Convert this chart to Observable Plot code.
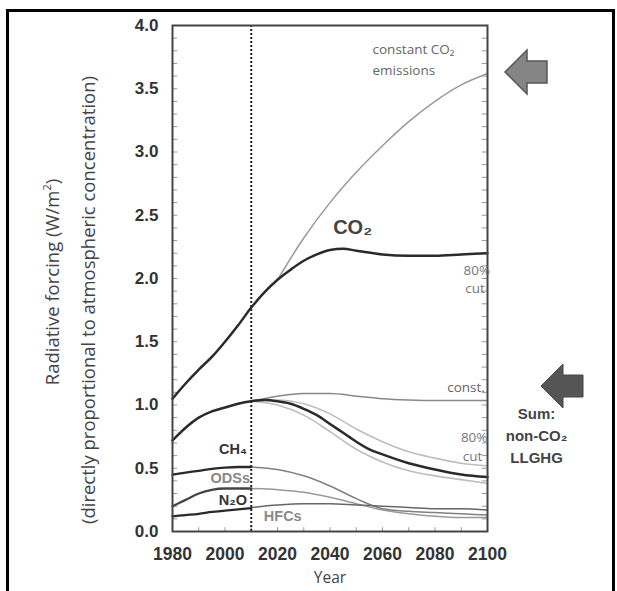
<!DOCTYPE html>
<html>
<head>
<meta charset="utf-8">
<script src="https://cdn.jsdelivr.net/npm/d3@7"></script>
<script src="https://cdn.jsdelivr.net/npm/@observablehq/plot@0.6"></script>
<style>
  html, body { margin: 0; padding: 0; background: #fff; }
  #wrap { position: relative; width: 617px; height: 591px; overflow: hidden; }
  #border { position: absolute; left: 6px; top: 9px; width: 603px; height: 600px; border: 3px solid #000; border-bottom: none; }
  .ytitle { position: absolute; font-family: "Open Sans", sans-serif; font-size: 18.5px; color: #444; white-space: nowrap;
            transform: translate(-50%, -50%) rotate(-90deg); }
  #chart { position: absolute; left: 0; top: 0; }
  #deco { position: absolute; left: 0; top: 0; }
</style>
</head>
<body>
<div id="wrap">
  <div id="border"></div>
  <div id="chart"></div>
  <div class="ytitle" style="left:51px; top:282px;">Radiative forcing (W/m<sup style="font-size:11px">2</sup>)</div>
  <div class="ytitle" style="left:87px; top:300px;">(directly proportional to atmospheric concentration)</div>
  <svg id="deco" width="617" height="591">
    <polygon points="505,72 527,50 527,61 547,61 547,83 527,83 527,94" fill="#858585" stroke="#555" stroke-width="1.5"/>
    <polygon points="541,386 563,364 563,375 583,375 583,397 563,397 563,408" fill="#555" stroke="#444" stroke-width="1"/>
  </svg>
</div>
<script>
// ---- data ----
const co2Years   = [1980, 1985, 1990, 1995, 2000, 2005, 2010, 2015, 2020, 2025, 2030, 2035, 2040, 2045, 2050, 2060, 2070, 2080, 2090, 2100];
const co2Cut     = [1.05, 1.17, 1.28, 1.38, 1.50, 1.63, 1.77, 1.89, 1.99, 2.07, 2.14, 2.19, 2.225, 2.235, 2.22, 2.19, 2.18, 2.18, 2.19, 2.20];
const constYears = [2020, 2030, 2040, 2050, 2060, 2070, 2080, 2090, 2100];
const co2Const   = [1.99, 2.32, 2.60, 2.84, 3.05, 3.24, 3.40, 3.53, 3.62];

const sumYears   = [1980, 1985, 1990, 1995, 2000, 2005, 2010, 2015, 2020, 2025, 2030, 2035, 2040, 2045, 2050, 2055, 2060, 2070, 2080, 2090, 2100];
const sumCut     = [0.72, 0.82, 0.90, 0.95, 0.98, 1.01, 1.03, 1.04, 1.03, 1.01, 0.97, 0.92, 0.85, 0.78, 0.71, 0.65, 0.61, 0.54, 0.49, 0.45, 0.43];
const projYears  = [2010, 2020, 2030, 2040, 2050, 2060, 2070, 2080, 2090, 2100];
const sumConst   = [1.03, 1.07, 1.09, 1.09, 1.07, 1.05, 1.04, 1.035, 1.035, 1.035];
const sumCutHigh = [1.03, 1.04, 1.01, 0.93, 0.81, 0.71, 0.63, 0.58, 0.54, 0.52];
const sumCutLow  = [1.03, 1.00, 0.92, 0.79, 0.65, 0.55, 0.48, 0.44, 0.41, 0.38];

const histYears  = [1980, 1985, 1990, 1995, 2000, 2005, 2010];
const ch4Hist    = [0.45, 0.465, 0.48, 0.495, 0.505, 0.51, 0.51];
const odsHist    = [0.20, 0.25, 0.30, 0.33, 0.34, 0.34, 0.34];
const n2oHist    = [0.12, 0.13, 0.14, 0.155, 0.165, 0.175, 0.185];
const ch4Proj    = [0.51, 0.49, 0.44, 0.36, 0.26, 0.18, 0.16, 0.15, 0.14, 0.13];
const odsProj    = [0.34, 0.33, 0.31, 0.27, 0.22, 0.17, 0.14, 0.12, 0.11, 0.11];
const n2oProj    = [0.19, 0.21, 0.22, 0.22, 0.21, 0.20, 0.19, 0.18, 0.18, 0.17];

const xTicks = [1980, 2000, 2020, 2040, 2060, 2080, 2100];
const yTicks = [0.0, 0.5, 1.0, 1.5, 2.0, 2.5, 3.0, 3.5, 4.0];
const yMinor = d3.range(0, 4.001, 0.1);
const xMinor = d3.range(1990, 2100, 10);
const splitYear = [2010];

// annotation labels (data units)
const startLabels = [
  {x: 2056.2, y: 3.81, text: "constant CO₂", fill: "#666"},
  {x: 2056.2, y: 3.64, text: "emissions", fill: "#666"}
];
const endLabels = [
  {x: 2101, y: 2.06, text: "80%", fill: "#777"},
  {x: 2099, y: 1.92, text: "cut", fill: "#777"},
  {x: 2099, y: 1.14, text: "const.", fill: "#666"},
  {x: 2100, y: 0.745, text: "80%", fill: "#777"},
  {x: 2098, y: 0.595, text: "cut", fill: "#777"}
];
const gasLabels = [
  {x: 2003, y: 0.65, text: "CH₄", fill: "#333"},
  {x: 2002, y: 0.42, text: "ODSs", fill: "#888"},
  {x: 2003, y: 0.245, text: "N₂O", fill: "#333"},
  {x: 2022, y: 0.12, text: "HFCs", fill: "#8a8a8a"}
];
const co2Label = [{x: 2048.6, y: 2.40, text: "CO₂"}];
const sideLabels = [
  {x: 2118.7, y: 0.925, text: "Sum:"},
  {x: 2118.7, y: 0.75, text: "non-CO₂"},
  {x: 2118.7, y: 0.577, text: "LLGHG"}
];

const pts = (xs, ys) => xs.map((x, i) => ({x, y: ys[i]}));
const C = "monotone-x";

const plot = Plot.plot({
  width: 617,
  height: 591,
  marginLeft: 172,
  marginRight: 130,
  marginTop: 25,
  marginBottom: 60,
  style: {fontFamily: "'Liberation Sans', Arial, sans-serif", background: "transparent", overflow: "visible"},
  x: {domain: [1980, 2100]},
  y: {domain: [0, 4]},
  marks: [
    Plot.axisY({ticks: yTicks, tickSize: 0, tickPadding: 14, tickFormat: d3.format(".1f"), fontSize: 17, fontWeight: "bold", fill: "#333", label: null}),
    Plot.axisX({ticks: xTicks, tickSize: 0, tickPadding: 16, tickFormat: d => String(d), fontSize: 17.5, fontWeight: "bold", fill: "#333", label: null}),
    Plot.text(["Year"], {frameAnchor: "bottom", dy: 51, fontFamily: "'Open Sans', sans-serif", fontSize: 15.5, fill: "#444"}),
    // minor inward ticks
    Plot.ruleY(yMinor, {y: d => d, x1: 1980, x2: 1982, stroke: "#999", strokeWidth: 1}),
    Plot.ruleY(yMinor, {y: d => d, x1: 2098, x2: 2100, stroke: "#999", strokeWidth: 1}),
    Plot.ruleX(xMinor, {x: d => d, y1: 0, y2: 0.03, stroke: "#999", strokeWidth: 1}),
    Plot.ruleX(splitYear, {stroke: "#222", strokeWidth: 2, strokeDasharray: "2,2"}),
    // CO2
    Plot.line(pts(constYears, co2Const), {x: "x", y: "y", stroke: "#9a9a9a", strokeWidth: 1.5, curve: C}),
    Plot.line(pts(co2Years, co2Cut), {x: "x", y: "y", stroke: "#2a2a2a", strokeWidth: 2.5, curve: C}),
    // non-CO2 sum
    Plot.line(pts(projYears, sumConst), {x: "x", y: "y", stroke: "#888", strokeWidth: 1.5, curve: C}),
    Plot.line(pts(projYears, sumCutHigh), {x: "x", y: "y", stroke: "#bdbdbd", strokeWidth: 1.6, curve: C}),
    Plot.line(pts(projYears, sumCutLow), {x: "x", y: "y", stroke: "#bdbdbd", strokeWidth: 1.6, curve: C}),
    Plot.line(pts(sumYears, sumCut), {x: "x", y: "y", stroke: "#2a2a2a", strokeWidth: 2.5, curve: C}),
    // components, projection
    Plot.line(pts(projYears, ch4Proj), {x: "x", y: "y", stroke: "#808080", strokeWidth: 1.5, curve: C}),
    Plot.line(pts(projYears, odsProj), {x: "x", y: "y", stroke: "#999", strokeWidth: 1.5, curve: C}),
    Plot.line(pts(projYears, n2oProj), {x: "x", y: "y", stroke: "#666", strokeWidth: 1.5, curve: C}),
    // components, history
    Plot.line(pts(histYears, ch4Hist), {x: "x", y: "y", stroke: "#2a2a2a", strokeWidth: 2.3, curve: C}),
    Plot.line(pts(histYears, odsHist), {x: "x", y: "y", stroke: "#444", strokeWidth: 2.3, curve: C}),
    Plot.line(pts(histYears, n2oHist), {x: "x", y: "y", stroke: "#2a2a2a", strokeWidth: 2.3, curve: C}),
    Plot.frame({stroke: "#444", strokeWidth: 2}),
    Plot.text(startLabels, {x: "x", y: "y", text: "text", textAnchor: "start", fill: "fill", fontSize: 13.5, fontFamily: "'Open Sans', sans-serif", clip: false}),
    Plot.text(endLabels, {x: "x", y: "y", text: "text", textAnchor: "end", fill: "fill", fontSize: 13.5, fontFamily: "'Open Sans', sans-serif", clip: false}),
    Plot.text(gasLabels, {x: "x", y: "y", text: "text", fill: "fill", fontSize: 14.5, fontWeight: "bold", fontFamily: "'Liberation Sans', Arial, sans-serif"}),
    Plot.text(co2Label, {x: "x", y: "y", text: "text", fill: "#444", fontSize: 20, fontWeight: "bold", fontFamily: "'Liberation Sans', Arial, sans-serif"}),
    Plot.text(sideLabels, {x: "x", y: "y", text: "text", fill: "#444", fontSize: 15, fontWeight: "bold", clip: false})
  ]
});
document.getElementById("chart").appendChild(plot);
</script>
</body>
</html>
